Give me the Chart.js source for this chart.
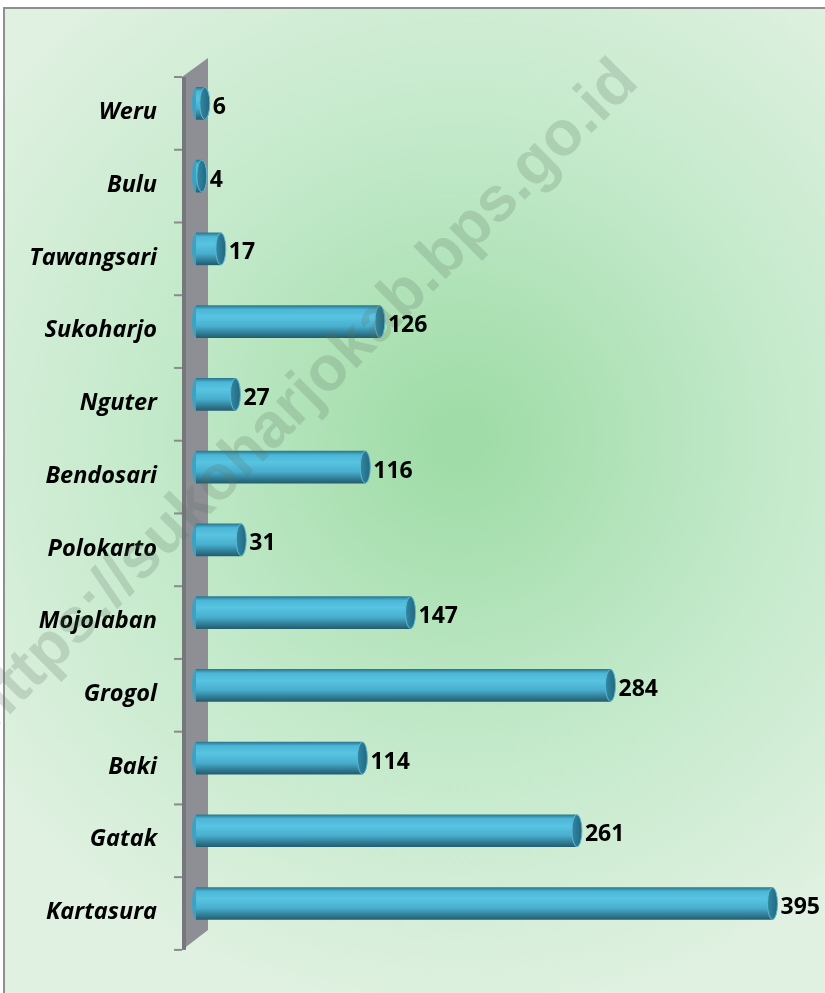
<!DOCTYPE html>
<html>
<head>
<meta charset="utf-8">
<script src="https://cdn.jsdelivr.net/npm/chart.js@4.4.1/dist/chart.umd.min.js"></script>
<style>
  html, body { margin: 0; padding: 0; background: #fff; }
  #wrap { width: 825px; height: 993px; }
</style>
</head>
<body>
<div id="wrap"><canvas id="kecamatan_chart" width="825" height="993"></canvas></div>
<script>
const categories = ["Weru", "Bulu", "Tawangsari", "Sukoharjo", "Nguter", "Bendosari",
    "Polokarto", "Mojolaban", "Grogol", "Baki", "Gatak", "Kartasura"];
const values = [6, 4, 17, 126, 27, 116, 31, 147, 284, 114, 261, 395];
const watermark = "https://sukoharjokab.bps.go.id";

// 3D look: everything below the bars sits a little lower than the bar centres
const DROP = 10;

const backgroundPlugin = {
    id: "background",
    beforeDraw: (chart) => {
        const ctx = chart.ctx;
        ctx.save();
        ctx.fillStyle = "#ffffff";
        ctx.fillRect(0, 0, chart.width, chart.height);
        const g = ctx.createRadialGradient(460, 440, 20, 460, 440, 580);
        g.addColorStop(0, "#9fdca7");
        g.addColorStop(0.5, "#c2e9c9");
        g.addColorStop(1, "#e0f1e1");
        ctx.fillStyle = g;
        ctx.fillRect(4, 8, chart.width - 4, chart.height - 8);
        // frame
        ctx.strokeStyle = "#8f8f8f";
        ctx.lineWidth = 2;
        ctx.beginPath();
        ctx.moveTo(4, chart.height);
        ctx.lineTo(4, 8);
        ctx.lineTo(chart.width, 8);
        ctx.stroke();
        ctx.restore();
    },
};

const wallPlugin = {
    id: "wall",
    beforeDatasetsDraw: (chart) => {
        const ctx = chart.ctx;
        const y = chart.scales.y;
        const step = y.getPixelForValue(1) - y.getPixelForValue(0);
        const top = y.getPixelForValue(0) - step / 2 + DROP;
        const bottom = y.getPixelForValue(categories.length - 1) + step / 2 + DROP;
        const xl = 182, xr = 208;
        ctx.save();
        ctx.fillStyle = "#8e8f95";
        ctx.beginPath();
        ctx.moveTo(xl, top);
        ctx.lineTo(xr, top - 19);
        ctx.lineTo(xr, bottom - 20);
        ctx.lineTo(xl, bottom);
        ctx.closePath();
        ctx.fill();
        ctx.fillStyle = "#76777d";
        ctx.fillRect(xl, top, 4, bottom - top);
        ctx.strokeStyle = "#8a8a8e";
        ctx.lineWidth = 2;
        for (let i = 0; i <= categories.length; i++) {
            const ty = top + i * step;
            ctx.beginPath();
            ctx.moveTo(174, ty);
            ctx.lineTo(xl, ty);
            ctx.stroke();
        }
        ctx.restore();
    },
};

const cylinderPlugin = {
    id: "cylinder",
    afterDatasetsDraw: (chart) => {
        const ctx = chart.ctx;
        const meta = chart.getDatasetMeta(0);
        ctx.save();
        meta.data.forEach((bar) => {
            const h = bar.height;
            // rounded start against the wall
            ctx.fillStyle = "#3aa3c3";
            ctx.beginPath();
            ctx.ellipse(bar.base, bar.y, 4, h / 2, 0, Math.PI / 2, Math.PI * 1.5);
            ctx.fill();
            // end cap
            const cap = ctx.createLinearGradient(bar.x - 5, 0, bar.x + 5, 0);
            cap.addColorStop(0, "#2f89a6");
            cap.addColorStop(1, "#24677d");
            ctx.fillStyle = cap;
            ctx.strokeStyle = "#5fb7d0";
            ctx.lineWidth = 1;
            ctx.beginPath();
            ctx.ellipse(bar.x, bar.y, 5, h / 2, 0, 0, Math.PI * 2);
            ctx.fill();
            ctx.stroke();
        });
        // watermark lies over the bars
        ctx.save();
        ctx.translate(304, 396);
        ctx.rotate(-Math.PI / 4);
        ctx.font = "bold 63px 'Liberation Sans', Arial, sans-serif";
        ctx.textAlign = "center";
        ctx.textBaseline = "middle";
        ctx.fillStyle = "rgba(90, 115, 95, 0.22)";
        ctx.fillText(watermark, 0, 0);
        ctx.restore();
        // value labels
        meta.data.forEach((bar, i) => {
            ctx.fillStyle = "#000";
            ctx.font = "bold 23px 'Open Sans', sans-serif";
            ctx.textAlign = "left";
            ctx.textBaseline = "middle";
            ctx.fillText(String(values[i]), bar.x + 8, bar.y + 4);
        });
        ctx.restore();
    },
};

const barFill = (context) => {
    const chart = context.chart;
    const y = chart.scales.y;
    if (!chart.chartArea || !y || context.dataIndex === undefined) return "#4fb9d9";
    const cy = y.getPixelForValue(context.dataIndex);
    const g = chart.ctx.createLinearGradient(0, cy - 16, 0, cy + 16);
    g.addColorStop(0, "#2a7891");
    g.addColorStop(0.12, "#4bb6d6");
    g.addColorStop(0.35, "#58c4e2");
    g.addColorStop(0.65, "#48aecd");
    g.addColorStop(0.85, "#327f98");
    g.addColorStop(1, "#245e70");
    return g;
};

const createChart = () => {
    const ctx = document.querySelector("#kecamatan_chart");
    return new Chart(ctx, {
        type: "bar",
        data: {
            labels: categories,
            datasets: [
                {
                    label: "Jumlah",
                    data: values,
                    backgroundColor: barFill,
                    borderWidth: 0,
                    barThickness: 32,
                },
            ],
        },
        options: {
            indexAxis: "y",
            responsive: false,
            animation: false,
            layout: { padding: { top: 67, bottom: 52, left: 0, right: 16 } },
            plugins: { legend: { display: false }, tooltip: { enabled: false } },
            scales: {
                x: { display: false, min: 0, max: 420 },
                y: {
                    afterFit: (scale) => { scale.width = 196; },
                    grid: { display: false, drawTicks: false },
                    border: { display: false },
                    ticks: {
                        padding: 39,
                        labelOffset: 9,
                        color: "#000",
                        font: { family: "'Open Sans', sans-serif", size: 23.5, weight: "bold", style: "italic" },
                    },
                },
            },
        },
        plugins: [backgroundPlugin, wallPlugin, cylinderPlugin],
    });
};

createChart();
</script>
</body>
</html>
